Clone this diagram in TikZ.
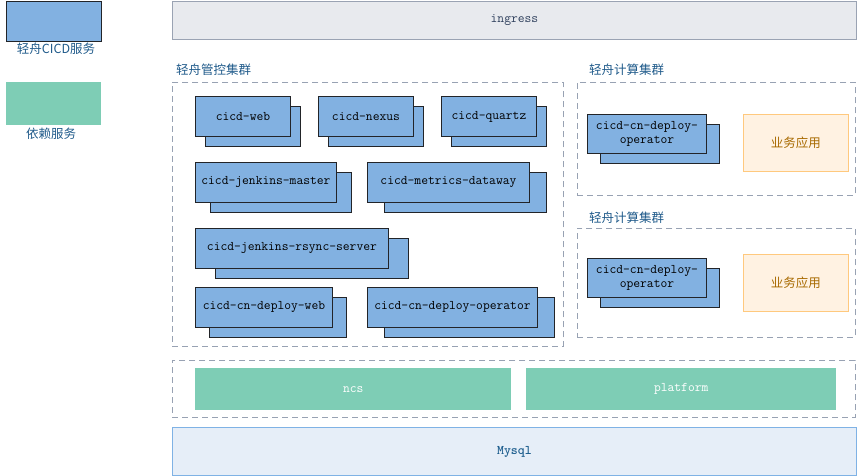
\documentclass[tikz,border=0pt]{standalone}
\usepackage{fontspec}
\newfontfamily\cjk{Noto Sans CJK SC}
\definecolor{svcblue}{HTML}{82B1E1}
\definecolor{svcedge}{HTML}{222428}
\definecolor{depgreen}{HTML}{7ECDB5}
\definecolor{labelblue}{HTML}{1F5A8A}
\definecolor{dashgray}{HTML}{98A2B3}
\definecolor{ingfill}{HTML}{E8EAEE}
\definecolor{ingedge}{HTML}{9AA3B3}
\definecolor{ingtext}{HTML}{2E3F5C}
\definecolor{appfill}{HTML}{FFF2E2}
\definecolor{appedge}{HTML}{FFC97E}
\definecolor{apptext}{HTML}{A86A00}
\definecolor{dbfill}{HTML}{E6EEF8}
\definecolor{dbedge}{HTML}{7FB2E5}
\definecolor{dbtext}{HTML}{1F5F8F}
\newcommand\monosz{\fontsize{13.2}{14.5}\selectfont\ttfamily}
\newcommand\cjksz{\fontsize{12.5}{14}\selectfont\cjk}
\begin{document}
\begin{tikzpicture}[x=1pt,y=-1pt,
  svc/.style={draw=svcedge, fill=svcblue, line width=0.9pt, inner sep=0pt, anchor=north west, minimum height=40pt, font=\monosz, align=center},
  cluster/.style={draw=dashgray, dash pattern=on 6pt off 4pt, line width=0.9pt, anchor=north west, inner sep=0pt},
  grouplabel/.style={anchor=west, inner sep=0pt, text=labelblue, font=\cjksz},
  dep/.style={fill=depgreen, anchor=north west, inner sep=0pt, minimum height=42pt, text=white, font=\monosz},
  app/.style={draw=appedge, fill=appfill, line width=0.9pt, anchor=north west, inner sep=0pt, minimum width=105pt, minimum height=57pt, text=apptext, font=\cjksz}
]
\useasboundingbox (0,0) rectangle (857,476);

% legend
\node[svc, minimum width=95pt] (legsvc) at (6,1) {};
\node[text=labelblue, font=\cjksz, inner sep=0pt] (legsvclbl) at (56,49) {轻舟CICD服务};
\node[dep, minimum width=95pt, minimum height=43pt] (legdep) at (6,82) {};
\node[text=labelblue, font=\cjksz, inner sep=0pt] (legdeplbl) at (51,134) {依赖服务};

% ingress
\node[draw=ingedge, fill=ingfill, line width=0.9pt, anchor=north west, inner sep=0pt, minimum width=684pt, minimum height=38pt, text=ingtext, font=\monosz] (ingress) at (172,1) {ingress};

% management cluster
\node[grouplabel] (mgmtlbl) at (176,70) {轻舟管控集群};
\node[cluster, minimum width=391pt, minimum height=264pt] (mgmt) at (172,82) {};

\node[svc, minimum width=95pt] (webb) at (205,106) {};
\node[svc, minimum width=95pt] (web) at (195,96) {cicd-web};
\node[svc, minimum width=95pt] (nexusb) at (328,106) {};
\node[svc, minimum width=95pt] (nexus) at (318,96) {cicd-nexus};
\node[svc, minimum width=95pt] (quartzb) at (451,106) {};
\node[svc, minimum width=95pt] (quartz) at (441,96) {cicd-quartz};

\node[svc, minimum width=141pt] (jmb) at (210,172) {};
\node[svc, minimum width=141pt] (jm) at (195,162) {cicd-jenkins-master};
\node[svc, minimum width=162pt] (mdb) at (384,172) {};
\node[svc, minimum width=162pt] (md) at (367,162) {cicd-metrics-dataway};

\node[svc, minimum width=193pt] (rsb) at (215,238) {};
\node[svc, minimum width=193pt] (rs) at (195,228) {cicd-jenkins-rsync-server};

\node[svc, minimum width=137pt] (cdwb) at (209,297) {};
\node[svc, minimum width=137pt] (cdw) at (195,287) {cicd-cn-deploy-web};
\node[svc, minimum width=170pt] (cdob) at (384,297) {};
\node[svc, minimum width=170pt] (cdo) at (367,287) {cicd-cn-deploy-operator};

% compute cluster 1
\node[grouplabel] (c1lbl) at (589,70) {轻舟计算集群};
\node[cluster, minimum width=278pt, minimum height=113pt] (c1) at (577,82) {};
\node[svc, minimum width=119pt, minimum height=39pt] (op1b) at (600,124) {};
\node[svc, minimum width=119pt, minimum height=39pt] (op1) at (587,114) {cicd-cn-deploy-\\operator};
\node[app] (app1) at (743,114) {业务应用};

% compute cluster 2
\node[grouplabel] (c2lbl) at (589,218) {轻舟计算集群};
\node[cluster, minimum width=278pt, minimum height=109pt] (c2) at (577,228) {};
\node[svc, minimum width=119pt, minimum height=39pt] (op2b) at (600,268) {};
\node[svc, minimum width=119pt, minimum height=39pt] (op2) at (587,258) {cicd-cn-deploy-\\operator};
\node[app] (app2) at (743,254) {业务应用};

% dependencies
\node[cluster, minimum width=683pt, minimum height=57pt] (deps) at (172,360) {};
\node[dep, minimum width=316pt] (ncs) at (195,368) {ncs};
\node[dep, minimum width=310pt] (platform) at (526,368) {platform};

% mysql
\node[draw=dbedge, fill=dbfill, line width=0.9pt, anchor=north west, inner sep=0pt, minimum width=684pt, minimum height=48pt, text=dbtext, font=\monosz\bfseries] (mysql) at (172,427) {Mysql};
\end{tikzpicture}
\end{document}
